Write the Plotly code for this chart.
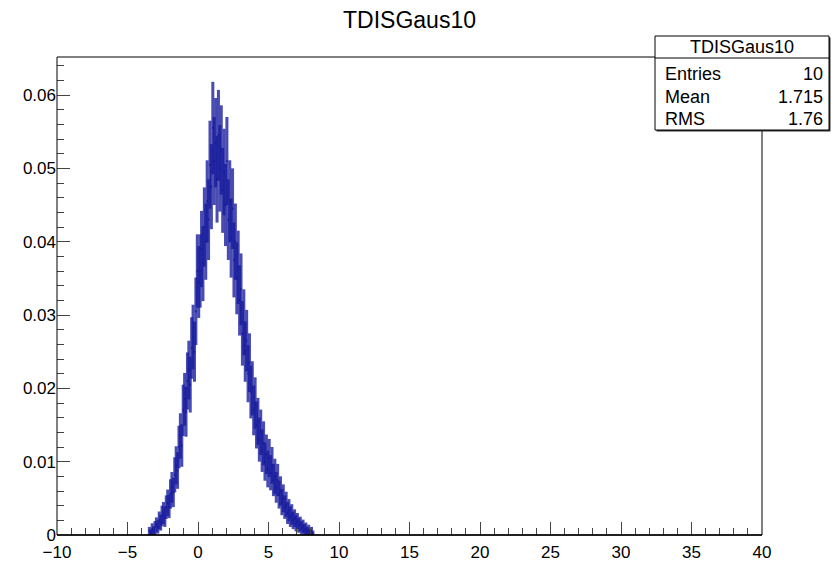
import numpy as np
import plotly.graph_objects as go

# Histogram: 0.1-wide bins, first bin lower edge at -3.5
bin_low = -3.5
bin_width = 0.1
values_e3 = [
    0.5, 0.3, 0.8, 0.6, 1.0, 1.4, 1.1, 2.0, 1.7, 2.6,
    3.0, 2.5, 3.8, 4.4, 3.9, 5.6, 6.5, 5.8, 8.2, 9.5,
    8.8, 12.0, 13.5, 12.2, 17.0, 18.5, 16.8, 21.0, 22.5, 20.5,
    25.5, 27.0, 25.0, 30.5, 36.0, 34.5, 36.0, 39.0, 37.0, 42.0,
    40.0, 45.5, 43.0, 50.5, 47.5, 55.5, 51.0, 53.5, 48.5, 54.5,
    50.0, 52.5, 47.0, 49.5, 45.0, 51.0, 43.0, 45.5, 40.5, 44.5,
    37.5, 40.0, 35.0, 36.5, 32.0, 33.5, 27.5, 29.0, 25.0, 26.5,
    22.0, 23.5, 19.5, 20.0, 17.0, 18.0, 15.0, 15.5, 13.0, 14.0,
    11.5, 12.5, 10.0, 11.0, 9.0, 10.5, 8.5, 9.5, 7.5, 8.0,
    6.5, 7.5, 5.5, 6.0, 4.5, 5.0, 3.8, 4.2, 3.0, 3.4,
    2.5, 2.8, 2.0, 2.3, 1.6, 1.9, 1.3, 1.5, 1.0, 1.2,
    0.7, 0.9, 0.5, 0.7, 0.3, 0.5, 0.2,
]
errors_e3 = [
    0.6, 0.5, 0.8, 0.6, 0.9, 1.0, 0.9, 1.2, 1.1, 1.4,
    1.5, 1.4, 1.6, 1.8, 1.6, 2.0, 2.1, 2.0, 2.4, 2.6,
    2.5, 2.9, 3.1, 2.9, 3.5, 3.6, 3.4, 3.9, 4.0, 3.8,
    4.2, 4.4, 4.1, 4.6, 5.0, 4.9, 5.0, 5.2, 5.1, 5.4,
    5.2, 5.6, 5.5, 6.0, 5.8, 6.3, 6.0, 6.1, 5.9, 6.2,
    5.9, 6.1, 5.8, 5.9, 5.6, 6.0, 5.5, 5.6, 5.4, 5.5,
    5.1, 5.2, 4.9, 5.0, 4.8, 4.9, 4.4, 4.5, 4.1, 4.2,
    3.9, 4.0, 3.6, 3.7, 3.4, 3.5, 3.2, 3.2, 3.0, 3.1,
    2.9, 3.0, 2.6, 2.7, 2.5, 2.6, 2.4, 2.5, 2.2, 2.4,
    2.1, 2.2, 1.9, 2.0, 1.8, 1.9, 1.6, 1.7, 1.5, 1.5,
    1.4, 1.4, 1.2, 1.2, 1.1, 1.1, 1.0, 1.0, 0.9, 0.9,
    0.8, 0.8, 0.6, 0.7, 0.5, 0.6, 0.4,
]
title_text = "TDISGaus10"
stats_labels = ["Entries", "Mean", "RMS"]
stats_values = ["10", "1.715", "1.76"]

n = len(values_e3)
centers = bin_low + bin_width * (np.arange(n) + 0.5)
vals = np.array(values_e3) * 1e-3
errs = np.array(errors_e3) * 1e-3

FONT = "Liberation Sans, Arial, Helvetica, sans-serif"
col = "rgba(22,26,155,0.78)"

fig = go.Figure()
# horizontal bin-width segments
hx, hy = [], []
for c, v in zip(centers, vals):
    hx += [c - bin_width / 2, c + bin_width / 2, None]
    hy += [v, v, None]
fig.add_trace(go.Scatter(x=hx, y=hy, mode="lines", line=dict(color=col, width=2.5),
                         hoverinfo="skip", showlegend=False))
fig.add_trace(go.Scatter(
    x=centers, y=vals, mode="markers",
    marker=dict(size=1, color=col),
    error_y=dict(type="data", array=errs, visible=True, color=col, thickness=3, width=0),
    showlegend=False,
))

L, R, T, B = 57, 762, 57, 535
W, H = 831, 562
pw, ph = R - L, B - T

def px(X):
    return (X - L) / pw

def py(Y):
    return (B - Y) / ph

shapes = [
    dict(type="rect", xref="paper", yref="paper", x0=px(L), x1=px(R), y0=py(B), y1=py(T),
         line=dict(color="black", width=1), fillcolor="rgba(0,0,0,0)", layer="above"),
    dict(type="line", xref="paper", yref="paper", x0=px(L), x1=px(R), y0=py(B), y1=py(B),
         line=dict(color="black", width=1.5), layer="above"),
    # stats box shadow
    dict(type="rect", xref="paper", yref="paper", x0=px(656.5), x1=px(830.5), y0=py(131.5), y1=py(37.5),
         line=dict(color="#333", width=0), fillcolor="#333", layer="above"),
    dict(type="rect", xref="paper", yref="paper", x0=px(655), x1=px(829), y0=py(130), y1=py(36),
         line=dict(color="black", width=1), fillcolor="white", layer="above"),
    dict(type="line", xref="paper", yref="paper", x0=px(655), x1=px(829), y0=py(58), y1=py(58),
         line=dict(color="black", width=1), layer="above"),
]

annotations = [
    dict(text=title_text, xref="paper", yref="paper", x=px(742), y=py(47), showarrow=False,
         xanchor="center", yanchor="middle", font=dict(family=FONT, size=18, color="black")),
]
rows_y = [74, 97, 119]
for lab, val, yy in zip(stats_labels, stats_values, rows_y):
    annotations.append(dict(text=lab, xref="paper", yref="paper", x=px(663), y=py(yy),
                            showarrow=False, xanchor="left", yanchor="middle",
                            font=dict(family=FONT, size=18, color="black")))
    annotations.append(dict(text=val, xref="paper", yref="paper", x=px(825), y=py(yy),
                            showarrow=False, xanchor="right", yanchor="middle",
                            font=dict(family=FONT, size=18, color="black")))

fig.update_layout(
    width=W, height=H,
    margin=dict(l=L, r=W - R, t=T, b=H - B, pad=0, autoexpand=False),
    paper_bgcolor="white", plot_bgcolor="white",
    title=dict(text=title_text, x=0.5, xref="paper", xanchor="center",
               y=1 - 20 / H, yref="container", yanchor="middle",
               font=dict(family=FONT, size=23, color="black")),
    font=dict(family=FONT, size=17, color="black"),
    shapes=shapes, annotations=annotations,
    xaxis=dict(range=[-10, 40], dtick=5, tick0=-10, ticks="inside", ticklen=13, tickwidth=1,
               tickcolor="#444", showgrid=False, zeroline=False, showline=False,
               automargin=False, ticklabelstandoff=5,
               minor=dict(dtick=1, ticks="inside", ticklen=7, tickcolor="#444", showgrid=False),
               tickfont=dict(family=FONT, size=17, color="black")),
    yaxis=dict(range=[0, (B - T) / 7333.0], dtick=0.01, ticks="inside", ticklen=13, tickwidth=1,
               tickcolor="#444", showgrid=False, zeroline=False, showline=False,
               automargin=False,
               minor=dict(dtick=0.002, ticks="inside", ticklen=7, tickcolor="#444", showgrid=False),
               tickfont=dict(family=FONT, size=17, color="black")),
)

fig.write_html("out.html")
